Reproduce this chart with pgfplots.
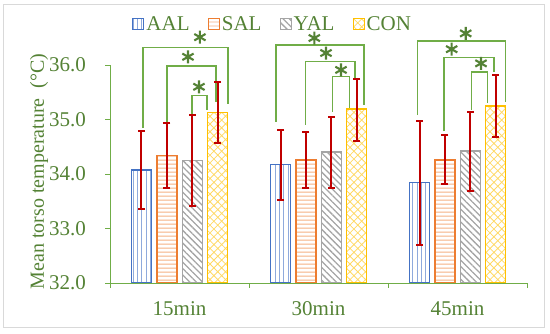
\documentclass[border=0pt]{standalone}
\usepackage{pgfplots}
\pgfplotsset{compat=1.18}
\usepackage{fontspec}
\setmainfont{Liberation Serif}
\usetikzlibrary{patterns.meta}
\definecolor{txtgreen}{HTML}{548235}
\definecolor{axgreen}{HTML}{70AD47}
\definecolor{brgreen}{HTML}{70AD47}
\definecolor{stgreen}{HTML}{548235}
\definecolor{cRed}{HTML}{C00000}
\definecolor{cBlue}{HTML}{4472C4}
\definecolor{cBlueL}{HTML}{8FAADC}
\definecolor{cOr}{HTML}{ED7D31}
\definecolor{cOrL}{HTML}{F4B183}
\definecolor{cGr}{HTML}{A5A5A5}
\definecolor{cYe}{HTML}{FFC000}
\definecolor{cYeL}{HTML}{FFD966}
\pgfplotsset{
  mylegend/.style={legend image code/.code={\draw[##1, line width=1.2bp] (0bp,-5.5bp) rectangle (11bp,5.5bp);}},
}
\begin{document}
\begin{tikzpicture}
\useasboundingbox (0bp,0bp) rectangle (550bp,334bp);
\draw[color=black!15, line width=1bp] (3bp,6bp) rectangle (544bp,329bp);
\begin{axis}[
  at={(110bp,51bp)}, anchor=south west,
  width=417bp, height=218bp, scale only axis,
  xmin=-0.5, xmax=2.5, ymin=32, ymax=36,
  axis x line*=bottom, axis y line*=left,
  axis line style={draw=axgreen, line width=0.8bp},
  ytick={32,33,34,35,36},
  yticklabel style={/pgf/number format/fixed, /pgf/number format/precision=1, /pgf/number format/fixed zerofill, font=\fontsize{21bp}{24bp}\selectfont, text=txtgreen, xshift=-15.5bp},
  /pgf/number format/assume math mode=true,
  xtick={0,1,2}, xticklabels={15min,30min,45min},
  xticklabel style={font=\fontsize{21bp}{24bp}\selectfont, text=txtgreen, yshift=-10bp},
  minor xtick={-0.5,0.5,1.5,2.5},
  tick align=outside,
  major tick length=5bp, minor tick length=5bp,
  major x tick style={draw=none},
  minor x tick style={draw=axgreen, line width=0.8bp},
  major y tick style={draw=axgreen, line width=0.8bp},
  ylabel={Mean torso temperature\hspace{0.5em}(°C)},
  every axis y label/.style={at={(axis description cs:-0.17,0.512)}, rotate=90, anchor=center, font=\fontsize{20bp}{23bp}\selectfont, text=txtgreen},
  legend style={at={(0.053,1.188)}, anchor=west, draw=none, fill=none, inner sep=0pt,
     font=\fontsize{21bp}{24bp}\selectfont, text=txtgreen,
     /tikz/every even column/.append style={column sep=16bp}},
  legend columns=4,
  ybar, bar width=20bp,
]
\addplot[ybar, bar shift=-38bp, draw=cBlue, line width=1.4bp,
  pattern={Lines[angle=90,distance=4.3bp,line width=0.9bp]}, pattern color=cBlueL, mylegend]
  coordinates {(0,34.07) (1,34.17) (2,33.84)};
\addplot[ybar, bar shift=-12.7bp, draw=cOr, line width=1.4bp,
  pattern={Lines[angle=0,distance=3.9bp,line width=0.9bp]}, pattern color=cOrL, mylegend]
  coordinates {(0,34.34) (1,34.26) (2,34.26)};
\addplot[ybar, bar shift=12.7bp, draw=cGr, line width=1.4bp,
  pattern={Lines[angle=-45,distance=4.5bp,line width=1.3bp]}, pattern color=cGr, mylegend]
  coordinates {(0,34.25) (1,34.40) (2,34.42)};
\addplot[ybar, bar shift=38bp, draw=cYe, line width=1.4bp,
  pattern={Hatch[angle=45,distance=5.5bp,line width=0.8bp]}, pattern color=cYeL, mylegend]
  coordinates {(0,35.13) (1,35.19) (2,35.25)};
\legend{AAL,SAL,YAL,CON}
\end{axis}
\begin{axis}[
  at={(110bp,51bp)}, anchor=south west,
  width=417bp, height=218bp, scale only axis,
  xmin=-0.5, xmax=2.5, ymin=32, ymax=36,
  hide axis, clip=false,
]
\pgfplotsset{
  br/.style={sharp plot, draw=brgreen, line width=1.5bp, mark=none},
  eb/.style={sharp plot, draw=cRed, line width=2bp, unbounded coords=jump,
     mark=-, mark size=3.6bp, mark options={draw=cRed, line width=2bp, solid}},
}
% error bars: lower and upper ends (series offsets -38, -12.7, 12.7, 38 bp of 139 bp per category)
\addplot[eb] coordinates {(-0.2734,33.36) (-0.2734,34.78) (0,nan) (0.7266,33.52) (0.7266,34.81) (1,nan) (1.7266,32.69) (1.7266,34.97)};
\addplot[eb] coordinates {(-0.0914,33.75) (-0.0914,34.93) (0,nan) (0.9086,33.74) (0.9086,34.77) (1,nan) (1.9086,33.81) (1.9086,34.72)};
\addplot[eb] coordinates {(0.0914,33.41) (0.0914,35.08) (0,nan) (1.0914,33.74) (1.0914,35.05) (1,nan) (2.0914,33.69) (2.0914,35.13)};
\addplot[eb] coordinates {(0.2734,34.56) (0.2734,35.69) (0,nan) (1.2734,34.61) (1.2734,35.75) (1,nan) (2.2734,34.68) (2.2734,35.82)};
% 15min
\addplot[br] coordinates {(-0.263,34.84) (-0.263,36.317) (0.349,36.317) (0.349,35.284)};
\addplot[br] coordinates {(-0.09,34.95) (-0.09,35.98) (0.262,35.98) (0.262,35.32)};
\addplot[br] coordinates {(0.09,35.10) (0.09,35.44) (0.198,35.44) (0.198,35.17)};
% 30min
\addplot[br] coordinates {(0.694,34.96) (0.694,36.367) (1.329,36.367) (1.329,35.266)};
\addplot[br] coordinates {(0.908,34.90) (0.908,36.06) (1.262,36.06) (1.262,35.76)};
\addplot[br] coordinates {(1.099,35.14) (1.099,35.785) (1.222,35.785) (1.222,35.21)};
% 45min
\addplot[br] coordinates {(1.714,35.08) (1.714,36.44) (2.347,36.44) (2.347,35.33)};
\addplot[br] coordinates {(1.903,34.78) (1.903,36.14) (2.262,36.14) (2.262,35.88)};
\addplot[br] coordinates {(2.102,35.17) (2.102,35.87) (2.217,35.87) (2.217,35.30)};
% stars
\addplot[only marks, mark=asterisk, mark size=6.5bp, mark options={draw=stgreen, line width=2.1bp}]
  coordinates {(0.147,36.51) (0.061,36.15) (0.14,35.60)
               (0.970,36.495) (1.054,36.22) (1.162,35.91)
               (2.059,36.58) (1.958,36.29) (2.169,36.03)};
\end{axis}
\end{tikzpicture}
\end{document}
